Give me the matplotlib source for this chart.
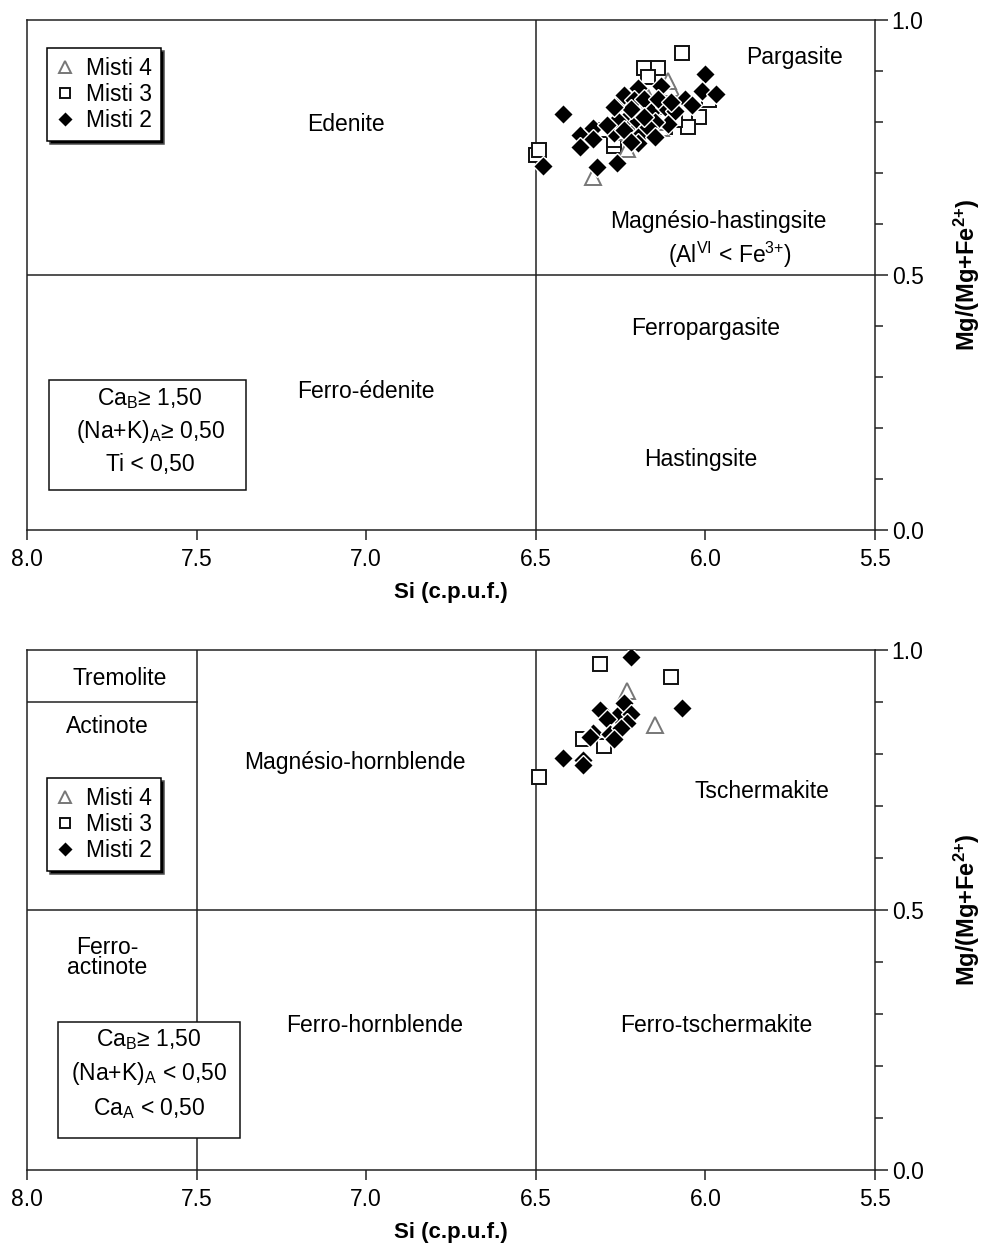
import matplotlib
matplotlib.use("Agg")
import matplotlib.pyplot as plt
from matplotlib.patches import Rectangle
from matplotlib.ticker import MultipleLocator

plt.rcParams['font.family'] = ['Liberation Sans', 'DejaVu Sans']
plt.rcParams['mathtext.fontset'] = 'custom'
plt.rcParams['mathtext.rm'] = 'Liberation Sans'
plt.rcParams['mathtext.it'] = 'Liberation Sans'
plt.rcParams['mathtext.bf'] = 'Liberation Sans:bold'

# ---------------- data: top panel (calcic amphiboles, (Na+K)A >= 0.5) -------------
top_m2_si = [6.42, 6.48, 6.37, 6.33, 6.33, 6.37, 6.32, 6.26, 6.27, 6.25, 6.24, 6.20, 6.21, 6.18,
             6.23, 6.20, 6.16, 6.12, 6.13, 6.09, 6.06, 6.19, 6.20, 6.00, 6.01, 5.97, 6.04, 6.26,
             6.11, 6.15, 6.22, 6.17, 6.14, 6.29, 6.24, 6.18, 6.10, 6.27, 6.15, 6.22]
top_m2_mg = [0.816, 0.714, 0.775, 0.788, 0.767, 0.751, 0.712, 0.720, 0.779, 0.840, 0.853, 0.867,
             0.843, 0.846, 0.808, 0.801, 0.819, 0.830, 0.870, 0.822, 0.846, 0.776, 0.758, 0.895,
             0.860, 0.855, 0.833, 0.804, 0.796, 0.800, 0.825, 0.790, 0.845, 0.795, 0.785, 0.810,
             0.840, 0.830, 0.770, 0.760]
top_m3_si = [6.07, 6.18, 6.14, 6.17, 5.99, 6.02, 6.05, 6.22, 6.27, 6.27, 6.09, 6.12, 6.30, 6.50,
             6.49, 6.21, 6.16, 6.24, 6.13, 6.19]
top_m3_mg = [0.936, 0.905, 0.905, 0.889, 0.843, 0.809, 0.790, 0.776, 0.752, 0.765, 0.804, 0.791,
             0.784, 0.735, 0.745, 0.820, 0.860, 0.800, 0.830, 0.795]
top_m4_si = [6.23, 6.33, 6.10, 6.13, 6.16, 6.14, 6.20, 6.17, 6.11, 6.24]
top_m4_mg = [0.748, 0.693, 0.866, 0.788, 0.784, 0.800, 0.830, 0.850, 0.880, 0.780]

# ---------------- data: bottom panel (calcic amphiboles, (Na+K)A < 0.5) -------------
bot_m2_si = [6.22, 6.07, 6.24, 6.31, 6.26, 6.22, 6.23, 6.29, 6.33, 6.34, 6.28, 6.42, 6.36, 6.36,
             6.25, 6.27]
bot_m2_mg = [0.986, 0.888, 0.899, 0.885, 0.873, 0.877, 0.860, 0.867, 0.840, 0.833, 0.838, 0.792,
             0.788, 0.778, 0.850, 0.828]
bot_m3_si = [6.31, 6.10, 6.36, 6.30, 6.49]
bot_m3_mg = [0.973, 0.949, 0.828, 0.815, 0.755]
bot_m4_si = [6.23, 6.15]
bot_m4_mg = [0.922, 0.856]

series_labels = ["Misti 4", "Misti 3", "Misti 2"]
x_ticks = [8.0, 7.5, 7.0, 6.5, 6.0, 5.5]
y_ticks = [0.0, 0.5, 1.0]

FS = 16.5
LW = 1.1

fig = plt.figure(figsize=(9.89, 12.5), dpi=100)
ax1 = fig.add_axes([27/989, 1-530/1250, 848/989, 510/1250])
ax2 = fig.add_axes([27/989, 1-1170/1250, 848/989, 520/1250])


def style_axes(ax):
    ax.set_xlim(8.0, 5.5)
    ax.set_ylim(0.0, 1.0)
    for s in ax.spines.values():
        s.set_linewidth(LW)
        s.set_color('#222222')
    ax.set_xticks(x_ticks)
    ax.set_xticklabels([f"{v:.1f}" for v in x_ticks], fontsize=FS)
    ax.yaxis.tick_right()
    ax.yaxis.set_label_position('right')
    ax.set_yticks(y_ticks)
    ax.set_yticklabels([f"{v:.1f}" for v in y_ticks], fontsize=FS)
    ax.yaxis.set_minor_locator(MultipleLocator(0.1))
    ax.tick_params(axis='x', direction='out', length=7, width=LW, pad=6, color='#222222')
    ax.tick_params(axis='y', which='major', direction='out', length=9, width=LW, pad=3, color='#222222')
    ax.tick_params(axis='y', which='minor', direction='out', length=6, width=LW, color='#222222')
    ax.set_xlabel("Si (c.p.u.f.)", fontsize=16, fontweight='bold', labelpad=8)
    ax.set_ylabel(r"Mg/(Mg+Fe$^{\mathbf{2{+}}}$)", fontsize=17, fontweight='bold', labelpad=20)


def plot_points(ax, m4x, m4y, m3x, m3y, m2x, m2y):
    ax.plot(m3x, m3y, ls='none', marker='s', ms=9.5, mfc='white', mec='#111111', mew=1.4,
            label=series_labels[1], zorder=3)
    ax.plot(m4x, m4y, ls='none', marker='^', ms=11, mfc='white', mec='#777777', mew=1.4,
            label=series_labels[0], zorder=3)
    ax.plot(m2x, m2y, ls='none', marker='D', ms=10.5, mfc='black', mec='white', mew=1.0,
            label=series_labels[2], zorder=4)


def add_legend(ax, anchor):
    h, l = ax.get_legend_handles_labels()
    order = [l.index(s) for s in series_labels]
    hh = [h[i] for i in order]
    ll = [l[i] for i in order]
    leg = ax.legend(hh, ll, loc='upper left', bbox_to_anchor=anchor, borderaxespad=0,
                    fontsize=16.5, frameon=True, fancybox=False, edgecolor='black',
                    handlelength=0.8, handletextpad=0.5, labelspacing=0.12, borderpad=0.4,
                    markerscale=0.75,
                    shadow={'facecolor': 'black', 'alpha': 1.0})
    leg.get_frame().set_linewidth(LW)
    leg.set_zorder(6)
    return leg


# ---------------- top panel ----------------
style_axes(ax1)
ax1.axvline(6.5, color='#222222', lw=LW, zorder=2)
ax1.axhline(0.5, color='#222222', lw=LW, zorder=2)
plot_points(ax1, top_m4_si, top_m4_mg, top_m3_si, top_m3_mg, top_m2_si, top_m2_mg)
add_legend(ax1, (0.0236, 0.945))

ax1.text(7.06, 0.796, "Edenite", fontsize=FS, ha='center', va='center')
ax1.text(5.736, 0.927, "Pargasite", fontsize=FS, ha='center', va='center')
ax1.text(5.963, 0.604, "Magnésio-hastingsite", fontsize=FS, ha='center', va='center')
ax1.text(5.927, 0.540, r"(Al$^{\mathregular{VI}}$ < Fe$^{\mathregular{3{+}}}$)", fontsize=FS,
         ha='center', va='center')
ax1.text(5.998, 0.396, "Ferropargasite", fontsize=FS, ha='center', va='center')
ax1.text(7.001, 0.271, "Ferro-édenite", fontsize=FS, ha='center', va='center')
ax1.text(6.013, 0.139, "Hastingsite", fontsize=FS, ha='center', va='center')

ax1.add_patch(Rectangle((0.026, 0.078), 0.232, 0.216, transform=ax1.transAxes,
                        facecolor='white', edgecolor='#111111', lw=LW, zorder=5))
ax1.text(7.637, 0.257, r"Ca$_{\mathregular{B}}$≥ 1,50", fontsize=FS, ha='center', va='center', zorder=6)
ax1.text(7.637, 0.194, r"(Na+K)$_{\mathregular{A}}$≥ 0,50", fontsize=FS, ha='center', va='center', zorder=6)
ax1.text(7.637, 0.129, "Ti < 0,50", fontsize=FS, ha='center', va='center', zorder=6)

# ---------------- bottom panel ----------------
style_axes(ax2)
ax2.axvline(7.5, color='#222222', lw=LW, zorder=2)
ax2.axvline(6.5, color='#222222', lw=LW, zorder=2)
ax2.axhline(0.5, color='#222222', lw=LW, zorder=2)
ax2.plot([8.0, 7.5], [0.9, 0.9], color='#222222', lw=LW, zorder=2)
plot_points(ax2, bot_m4_si, bot_m4_mg, bot_m3_si, bot_m3_mg, bot_m2_si, bot_m2_mg)
add_legend(ax2, (0.0236, 0.754))

ax2.text(7.726, 0.946, "Tremolite", fontsize=FS, ha='center', va='center')
ax2.text(7.764, 0.852, "Actinote", fontsize=FS, ha='center', va='center')
ax2.text(7.033, 0.783, "Magnésio-hornblende", fontsize=FS, ha='center', va='center')
ax2.text(5.833, 0.727, "Tschermakite", fontsize=FS, ha='center', va='center')
ax2.text(7.764, 0.408, "Ferro-\nactinote", fontsize=FS, ha='center', va='center', linespacing=0.85)
ax2.text(6.974, 0.277, "Ferro-hornblende", fontsize=FS, ha='center', va='center')
ax2.text(5.969, 0.277, "Ferro-tschermakite", fontsize=FS, ha='center', va='center')

ax2.add_patch(Rectangle((0.0366, 0.0615), 0.2146, 0.2235, transform=ax2.transAxes,
                        facecolor='white', edgecolor='#111111', lw=LW, zorder=5))
ax2.text(7.64, 0.250, r"Ca$_{\mathregular{B}}$≥ 1,50", fontsize=FS, ha='center', va='center', zorder=6)
ax2.text(7.64, 0.185, r"(Na+K)$_{\mathregular{A}}$ < 0,50", fontsize=FS, ha='center', va='center', zorder=6)
ax2.text(7.64, 0.119, r"Ca$_{\mathregular{A}}$ < 0,50", fontsize=FS, ha='center', va='center', zorder=6)

fig.savefig("out.png", dpi=100, facecolor='white')
